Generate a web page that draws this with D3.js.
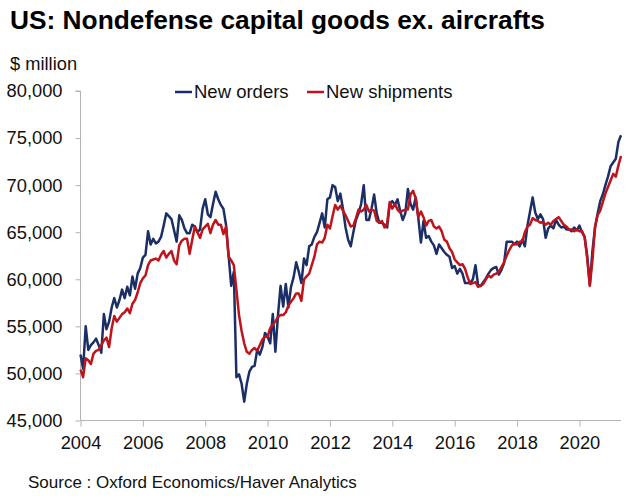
<!DOCTYPE html>
<html>
<head>
<meta charset="utf-8">
<script src="https://cdn.jsdelivr.net/npm/d3@7"></script>
<style>
  html, body { margin: 0; padding: 0; background: #fff; }
  svg { display: block; font-family: "Liberation Sans", Arial, sans-serif; }
</style>
</head>
<body>
<svg id="chart" width="630" height="504"></svg>
<script>
// ---- Data (monthly, starting Jan 2004), $ million ----
const startYear = 2004;
const seriesNames = ["New orders", "New shipments"];
const seriesColors = ["#1b2f66", "#c0141c"];

const newOrders = [
  52000,50500,55000,52500,53000,53300,53700,53000,52200,56300,54700,55500,
  57000,58000,57000,57800,58900,58000,59200,58300,60300,59000,60600,61200,
  62300,62600,65100,63700,64300,63800,64000,64500,65700,67000,66700,66400,
  65200,64000,66800,66300,65400,64900,64900,65800,65600,65000,65300,67500,
  68500,66900,66600,68000,69300,68500,67900,67500,65800,62500,59300,60800,
  49600,49900,48900,47000,48900,50200,50700,50800,52500,52000,52800,54300,
  53900,53200,56300,52300,56200,59300,57100,59500,57000,59200,60200,61800,
  60800,59600,62200,61500,63500,63700,64500,65000,66000,67000,65500,68500,
  68700,70000,69800,68300,69100,67500,65500,64200,63500,65000,66300,67000,
  68000,70000,66300,66300,67500,69000,67000,66000,66000,65800,65500,68000,
  68300,67900,68500,67300,66300,67000,69600,68000,67400,68700,66500,63900,
  66200,64400,64600,64000,63600,62700,63700,63300,62900,62600,62400,61200,
  61400,60600,61100,60600,59600,59600,59600,60000,61500,59400,59300,59700,
  60100,60600,61000,61200,61300,60500,61000,61700,64000,64000,64000,63700,
  64000,63500,64200,63500,65700,67200,68700,67100,66400,66900,66400,64400,
  65400,65700,65400,66300,65800,65500,65600,65300,65300,65100,65500,65200,
  65700,65000,64500,62500,59400,63000,65500,67000,68300,69000,70000,70900,
  72000,72400,72800,74600,75300
];

const newShipments = [
  50400,49600,51600,51400,51000,52100,52400,52500,53000,53500,53800,52800,
  54800,56100,55500,55900,56300,56500,56900,56400,57400,57800,58600,59600,
  60100,60400,61500,62000,62100,62200,62000,62600,63000,62300,62700,63000,
  62000,61600,63600,64100,64300,64300,62700,64200,65600,65000,64400,65300,
  65600,65900,64900,65800,66300,65800,65800,64800,65600,62400,62000,61500,
  58900,56200,54500,53200,52300,52100,52500,52700,52400,53000,53600,53900,
  53900,54800,55200,55500,56000,56200,56200,56500,57200,57600,58000,58500,
  58500,57700,60000,60300,60600,61500,62400,63700,64000,63900,64400,65800,
  65400,66700,67900,67400,67800,67300,66800,66200,65600,65700,66500,67400,
  67200,67400,67900,67200,67400,67300,66200,66000,66200,65500,65900,68200,
  67500,68000,67400,67100,67300,67400,67400,69000,69400,68600,66600,67200,
  66600,65700,66200,66300,65600,65400,65600,65100,64200,64000,63300,62900,
  62100,61800,61500,61600,61100,60200,59500,59600,59700,59200,59300,59500,
  60000,60400,60200,60500,60600,60800,61300,61800,62500,63100,63600,63800,
  63700,64000,64000,65000,65600,65800,66500,66300,66200,66000,66100,65800,
  66000,65800,66200,66400,66600,66200,65800,65600,65300,65300,65100,65300,
  65100,65100,64500,62200,59300,62000,65500,66800,67300,68200,69100,69800,
  70500,71200,70900,72100,73100
];

const yTickValues = [45000, 50000, 55000, 60000, 65000, 70000, 75000, 80000];
const xTickYears = [2004, 2006, 2008, 2010, 2012, 2014, 2016, 2018, 2020];

const titleText = "US: Nondefense capital goods ex. aircrafts";
const unitText = "$ million";
const sourceText = "Source : Oxford Economics/Haver Analytics";

// ---- Build ----
const svg = d3.select("#chart");
const plot = { left: 80.5, right: 621, top: 91, bottom: 420.5 };

const toYear = i => startYear + i / 12;
const nMonths = newOrders.length;

const x = d3.scaleLinear()
  .domain([startYear, toYear(nMonths - 1)])
  .range([plot.left, plot.right]);
const y = d3.scaleLinear()
  .domain([45000, 80000])
  .range([plot.bottom, plot.top]);

const axisColor = "#b3b3b3";
const textColor = "#111";

// Title & labels
svg.append("text").attr("x", 10).attr("y", 29)
  .attr("font-size", 26.3).attr("font-weight", "bold").attr("fill", "#000")
  .text(titleText);
svg.append("text").attr("x", 10).attr("y", 70)
  .attr("font-size", 18.3).attr("fill", textColor).text(unitText);
svg.append("text").attr("x", 28).attr("y", 488)
  .attr("font-size", 17).attr("fill", textColor).text(sourceText);

// Y axis
const yAxis = d3.axisLeft(y).tickValues(yTickValues).tickSize(5).tickPadding(13)
  .tickFormat(d3.format(","));
const gy = svg.append("g").attr("transform", `translate(${plot.left},0)`).call(yAxis);
gy.select(".domain").attr("stroke", axisColor).attr("d", `M-5,${y(80000)}H0V${y(45000)}`);
gy.selectAll(".tick line").attr("stroke", axisColor);
gy.selectAll(".tick text").attr("font-size", 18.3).attr("fill", textColor)
  .attr("font-family", "Liberation Sans, Arial, sans-serif");

// X axis
const xAxis = d3.axisBottom(x).tickValues(xTickYears).tickSize(6).tickPadding(10)
  .tickFormat(d3.format("d"));
const gx = svg.append("g").attr("transform", `translate(0,${plot.bottom})`).call(xAxis);
gx.select(".domain").attr("stroke", axisColor).attr("d", `M${plot.left},0H${plot.right}`);
gx.selectAll(".tick line").attr("stroke", axisColor);
gx.selectAll(".tick text").attr("font-size", 18.3).attr("fill", textColor)
  .attr("font-family", "Liberation Sans, Arial, sans-serif");

// Lines
const line = d3.line()
  .x((d, i) => x(toYear(i)))
  .y(d => y(d));

[newOrders, newShipments].forEach((s, k) => {
  svg.append("path")
    .datum(s)
    .attr("fill", "none")
    .attr("stroke", seriesColors[k])
    .attr("stroke-width", 2.5)
    .attr("stroke-linejoin", "round")
    .attr("d", line);
});

// Legend
const legendItems = [
  { name: seriesNames[0], color: seriesColors[0], x: 175 },
  { name: seriesNames[1], color: seriesColors[1], x: 307 }
];
legendItems.forEach(it => {
  svg.append("line")
    .attr("x1", it.x).attr("x2", it.x + 17)
    .attr("y1", 92).attr("y2", 92)
    .attr("stroke", it.color).attr("stroke-width", 2.5);
  svg.append("text").attr("x", it.x + 19).attr("y", 98)
    .attr("font-size", 18.5).attr("fill", textColor).text(it.name);
});
</script>
</body>
</html>
